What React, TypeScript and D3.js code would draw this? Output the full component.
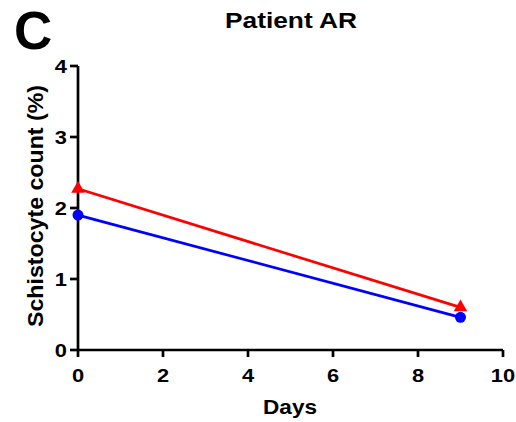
import React from "react";
import * as d3 from "d3";

const days = [0, 9];
const seriesRed = [2.27, 0.6];
const seriesBlue = [1.9, 0.46];
const xTicks = [0, 2, 4, 6, 8, 10];
const yTicks = [0, 1, 2, 3, 4];
const title = "Patient AR";
const panelLabel = "C";
const xLabel = "Days";
const yLabel = "Schistocyte count (%)";

export default function App() {
  const W = 516, H = 422;
  const x = d3.scaleLinear().domain([0, 10]).range([78, 503]);
  const y = d3.scaleLinear().domain([0, 4]).range([350, 66]);
  const line = d3.line<[number, number]>().x(d => x(d[0])).y(d => y(d[1]));
  const red: [number, number][] = days.map((d, i) => [d, seriesRed[i]]);
  const blue: [number, number][] = days.map((d, i) => [d, seriesBlue[i]]);
  const font = "'Liberation Sans', Arial, sans-serif";
  const tri = d3.symbol().type(d3.symbolTriangle).size(80)();
  const sx = 1.15;
  return (
    <svg width={W} height={H} style={{ position: "absolute", left: 0, top: 0, background: "#fff" }} fontFamily={font}>
      <text x={14} y={49} fontSize={53} fontWeight="bold">{panelLabel}</text>
      <text x={225} y={28} fontSize={22} fontWeight="bold" textLength={132} lengthAdjust="spacingAndGlyphs">{title}</text>
      <text transform={`translate(43,206) rotate(-90)`} fontSize={22} fontWeight="bold" textAnchor="middle" textLength={242} lengthAdjust="spacingAndGlyphs">{yLabel}</text>
      <text x={263} y={414} fontSize={21} fontWeight="bold" textLength={54} lengthAdjust="spacingAndGlyphs">{xLabel}</text>
      {/* axes */}
      <line x1={x(0)} x2={x(0)} y1={y(4)} y2={y(0)} stroke="#000" strokeWidth={2.7} />
      <line x1={x(0)} x2={x(10)} y1={y(0)} y2={y(0)} stroke="#000" strokeWidth={2.7} />
      {yTicks.map(t => (
        <g key={"y" + t}>
          <line x1={x(0) - 8} x2={x(0)} y1={y(t)} y2={y(t)} stroke="#000" strokeWidth={2.7} />
          <g transform={`translate(${x(0) - 11},${y(t)}) scale(${sx},1)`}>
            <text dy="0.36em" fontSize={19} fontWeight="bold" textAnchor="end">{t}</text>
          </g>
        </g>
      ))}
      {xTicks.map(t => (
        <g key={"x" + t}>
          <line x1={x(t)} x2={x(t)} y1={y(0)} y2={y(0) + 7} stroke="#000" strokeWidth={2.7} />
          <g transform={`translate(${x(t)},382) scale(${sx},1)`}>
            <text fontSize={19} fontWeight="bold" textAnchor="middle">{t}</text>
          </g>
        </g>
      ))}
      <path d={line(red) || ""} fill="none" stroke="#ff0000" strokeWidth={2.7} />
      <path d={line(blue) || ""} fill="none" stroke="#0000ff" strokeWidth={2.7} />
      {red.map((p, i) => (
        <path key={"r" + i} d={tri || ""} transform={`translate(${x(p[0])},${y(p[1])})`} fill="#ff0000" />
      ))}
      {blue.map((p, i) => (
        <circle key={"b" + i} cx={x(p[0])} cy={y(p[1])} r={5.5} fill="#0000ff" />
      ))}
    </svg>
  );
}
